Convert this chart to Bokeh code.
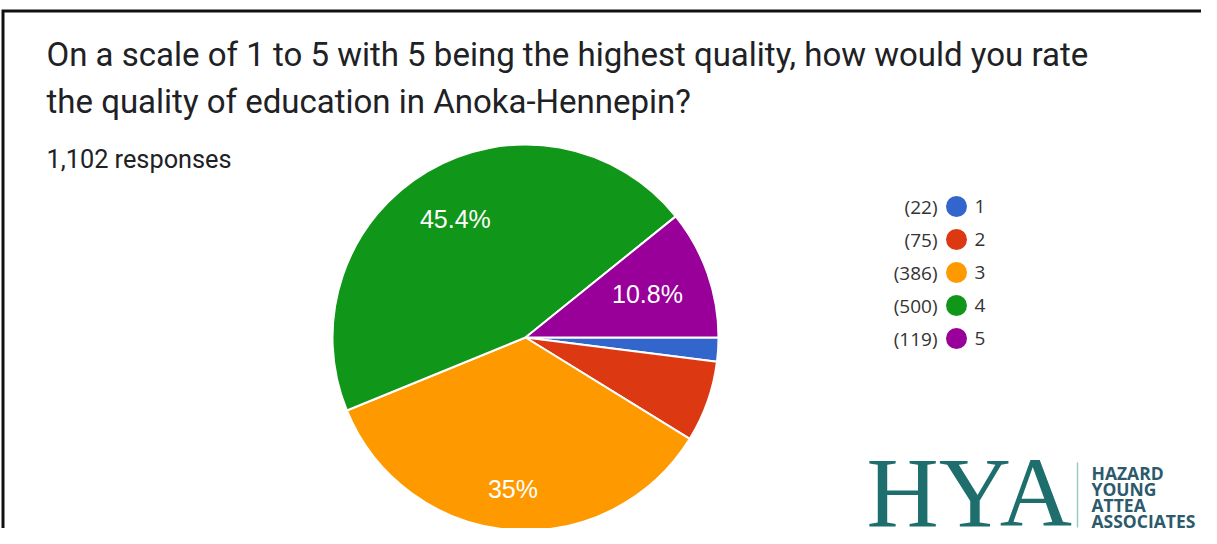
import math
from bokeh.plotting import figure
from bokeh.models import Range1d
from bokeh.core.properties import value
from bokeh.embed import file_html
from bokeh.resources import INLINE

# ---- data ----
title_lines = ["On a scale of 1 to 5 with 5 being the highest quality, how would you rate",
               "the quality of education in Anoka-Hennepin?"]
subtitle = "1,102 responses"
categories = ["1", "2", "3", "4", "5"]
counts = [22, 75, 386, 500, 119]
colors = ["#3366cc", "#dc3912", "#ff9900", "#109618", "#990099"]
logo_big = "HYA"
logo_lines = ["HAZARD", "YOUNG", "ATTEA", "ASSOCIATES"]

# ---- layout / style ----
label_radius = [0.7, 0.7, 0.79, 0.715, 0.67]

W, H = 1201, 528
TOP = 544


def Y(py):
    # picture y (top-down) -> data y (bottom-up)
    return TOP - py


p = figure(width=W, height=H, output_backend="svg", toolbar_location=None,
           x_range=Range1d(0, W), y_range=Range1d(TOP - H, TOP),
           min_border=0, outline_line_color=None, background_fill_color="white",
           border_fill_color="white")
p.axis.visible = False
p.grid.visible = False

# frame (left and top edges) as one polyline running past the figure edges
p.line(x=[2.5, 2.5, W + 60], y=[Y(H + 60), Y(10.5), Y(10.5)],
       line_color="#111111", line_width=3, line_join="miter")

# title
tf = value("Roboto")
p.text(x=[46, 46], y=[Y(54), Y(101)], text=title_lines, text_font=tf,
       text_font_size="33px", text_color="#202124", text_baseline="middle")
p.text(x=[46], y=[Y(159)], text=[subtitle], text_font=tf,
       text_font_size="25.3px", text_color="#202124", text_baseline="middle")

# pie
cx, cy, r = 525, Y(337), 193
total = sum(counts)
starts, ends = [], []
acc = 0.0
for c in counts:
    a0 = acc / total * 2 * math.pi
    acc += c
    a1 = acc / total * 2 * math.pi
    starts.append(-a1)
    ends.append(-a0)
p.wedge(x=cx, y=cy, radius=r, start_angle=starts, end_angle=ends,
        fill_color=colors, line_color="white", line_width=2)

# pie labels
lx, ly, lt = [], [], []
for c, s, e, f in zip(counts, starts, ends, label_radius):
    pct = c / total * 100
    if pct < 10:
        continue
    txt = f"{pct:.1f}".rstrip("0").rstrip(".") + "%"
    mid = (s + e) / 2
    lx.append(cx + f * r * math.cos(mid))
    ly.append(cy + f * r * math.sin(mid))
    lt.append(txt)
p.text(x=lx, y=ly, text=lt, text_font=value("Liberation Sans"), text_font_size="25px",
       text_color="white", text_align="center", text_baseline="middle")

# legend
ys = [Y(206 + 33 * i) for i in range(len(categories))]
p.text(x=[937] * len(counts), y=ys, text=[f"({c})" for c in counts],
       text_font=value("Open Sans"), text_font_size="19px", text_color="#333333",
       text_align="right", text_baseline="middle")
p.scatter(x=[956] * len(counts), y=ys, size=21, marker="circle",
          fill_color=colors, line_color=None)
p.text(x=[974] * len(counts), y=ys, text=categories,
       text_font=value("Open Sans"), text_font_size="19px", text_color="#333333",
       text_align="left", text_baseline="middle")

# logo
p.text(x=[866], y=[Y(492)], text=[logo_big], text_font=value("Liberation Serif"),
       text_font_size="100px", text_color="#1e6e6e", text_baseline="middle")
p.quad(left=[1076.3], right=[1077.7], top=[Y(462)], bottom=[Y(527)],
       fill_color="#8fc9c0", line_color=None)
p.text(x=[1091] * 4, y=[Y(472), Y(488), Y(504.5), Y(520.5)], text=logo_lines,
       text_font=value("Open Sans"), text_font_size="17.5px", text_color="#2d5a6b",
       text_font_style="bold", text_baseline="middle")

open("out.html", "w").write(file_html(p, INLINE))
